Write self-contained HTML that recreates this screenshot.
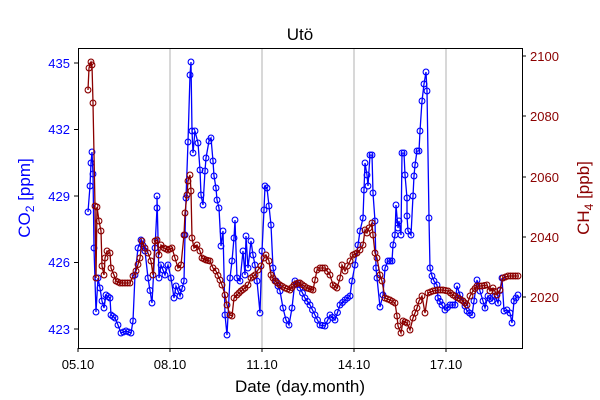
<!DOCTYPE html>
<html><head><meta charset="utf-8"><style>body{margin:0;background:#fff}svg{display:block;font-family:"Liberation Sans",sans-serif}</style></head><body>
<svg id="s" width="600" height="400" viewBox="0 0 600 400">
<rect x="78.5" y="48.5" width="444" height="300" fill="#fff"/>
<g stroke="#b0b0b0" stroke-width="1"><line x1="170" y1="48" x2="170" y2="348"/><line x1="262" y1="48" x2="262" y2="348"/><line x1="354" y1="48" x2="354" y2="348"/><line x1="446" y1="48" x2="446" y2="348"/></g>
<g id="data"></g>
<rect x="78.5" y="48.5" width="444" height="300" fill="none" stroke="#000" stroke-width="1"/>
<g stroke="#000"><line x1="78" y1="348" x2="78" y2="352"/><line x1="170" y1="348" x2="170" y2="352"/><line x1="262" y1="348" x2="262" y2="352"/><line x1="354" y1="348" x2="354" y2="352"/><line x1="446" y1="348" x2="446" y2="352"/>
<line x1="74" y1="63" x2="78" y2="63"/><line x1="74" y1="129.5" x2="78" y2="129.5"/><line x1="74" y1="196" x2="78" y2="196"/><line x1="74" y1="262.5" x2="78" y2="262.5"/><line x1="74" y1="329" x2="78" y2="329"/>
<line x1="522" y1="56" x2="526" y2="56"/><line x1="522" y1="116" x2="526" y2="116"/><line x1="522" y1="177" x2="526" y2="177"/><line x1="522" y1="237" x2="526" y2="237"/><line x1="522" y1="297" x2="526" y2="297"/></g>
<g font-size="13" text-anchor="middle"><text x="78" y="369">05.10</text><text x="170" y="369">08.10</text><text x="262" y="369">11.10</text><text x="354" y="369">14.10</text><text x="446" y="369">17.10</text></g>
<g font-size="13" text-anchor="end" fill="#0000ff"><text x="70" y="68">435</text><text x="70" y="134">432</text><text x="70" y="201">429</text><text x="70" y="267">426</text><text x="70" y="334">423</text></g>
<g font-size="13" fill="#8b0000"><text x="530" y="61">2100</text><text x="530" y="121">2080</text><text x="530" y="182">2060</text><text x="530" y="242">2040</text><text x="530" y="302">2020</text></g>
<text x="300" y="40" font-size="17" text-anchor="middle">Utö</text>
<text x="300" y="392" font-size="17" text-anchor="middle">Date (day.month)</text>
<text transform="translate(30,198) rotate(-90)" font-size="17" text-anchor="middle" fill="#0000ff">CO<tspan font-size="12" dy="4">2</tspan><tspan dy="-4"> [ppm]</tspan></text>
<text transform="translate(589,198) rotate(-90)" font-size="17" text-anchor="middle" fill="#8b0000">CH<tspan font-size="12" dy="4">4</tspan><tspan dy="-4"> [ppb]</tspan></text>
</svg>
<script>
var B=[88,212,90,186,91,163,92,152,93,174,94,248,96,312,98,278,100,288,102,301,104,308,106,295,110,298,111,315,115,318,118,325,121,333,126,331,131,333,133,321,135,275,138,248,141,240,145,251,148,278,152,303,155,248,157,208,157,196,159,278,161,265,165,275,168,265,171,278,174,298,176,286,180,296,184,281,185,235,186,198,188,142,190,75,191,62,192,131,193,153,195,131,198,143,200,170,201,195,203,205,205,171,206,158,209,141,211,138,213,161,214,176,216,188,217,200,219,208,221,246,223,231,225,315,227,335,230,278,232,261,234,238,235,220,237,278,240,281,243,251,245,275,246,236,248,268,251,241,253,255,255,265,257,281,260,313,262,251,264,210,265,186,267,188,269,206,271,225,273,268,276,281,280,291,283,308,286,320,289,325,292,308,295,281,300,288,305,298,310,305,315,315,320,325,325,326,330,315,335,320,340,305,345,300,350,296,352,281,355,265,358,245,360,231,363,218,364,190,365,163,367,175,368,186,370,155,372,155,373,193,375,221,376,268,377,278,380,307,383,295,385,268,388,261,392,261,393,245,395,235,396,205,398,228,399,221,401,235,402,153,404,153,405,175,407,198,407,216,408,231,411,235,413,196,414,176,415,165,417,151,419,151,420,131,422,101,424,84,426,72,427,91,429,218,430,268,432,276,434,281,437,285,438,298,442,305,445,310,450,305,455,305,457,286,460,295,463,301,467,311,472,315,474,301,477,280,480,291,483,301,485,308,488,296,492,301,495,296,498,303,502,278,504,311,507,310,510,313,512,323,514,301,516,298,518,295];
var R=[88,90,89,68,91,62,92,65,93,103,95,206,96,278,97,207,99,221,101,231,102,266,104,275,105,258,107,251,110,253,111,268,114,275,116,281,120,283,125,283,130,283,133,276,136,271,140,258,142,241,145,248,148,253,151,261,153,275,155,241,157,240,159,255,161,245,164,248,168,250,172,248,175,258,178,268,181,265,184,235,185,213,187,195,188,181,190,175,191,191,192,238,194,248,197,245,200,251,202,258,206,260,210,261,213,268,216,271,220,280,222,285,225,295,227,305,230,315,232,316,234,298,237,295,241,291,245,288,248,285,251,278,255,275,258,270,261,266,264,258,266,255,269,261,271,275,275,281,280,285,285,288,290,290,294,285,298,283,300,283,307,288,313,290,317,270,320,268,325,268,330,275,333,285,337,288,340,278,342,265,345,271,350,261,353,255,357,253,360,250,363,245,365,230,367,233,369,228,372,223,373,235,375,253,377,258,380,275,382,281,385,298,390,300,395,303,397,316,398,326,401,333,403,321,407,323,410,330,413,318,417,308,419,301,422,296,425,313,428,293,433,291,438,290,443,290,448,291,453,295,458,298,463,301,467,305,470,296,473,291,477,286,482,286,487,285,490,291,493,288,497,295,500,290,503,278,508,276,513,276,518,276];
function draw(a,c){var g=document.getElementById('data'),ns='http://www.w3.org/2000/svg',p=[];for(var i=0;i<a.length;i+=2)p.push(a[i]+','+a[i+1]);
var l=document.createElementNS(ns,'polyline');l.setAttribute('points',p.join(' '));l.setAttribute('fill','none');l.setAttribute('stroke',c);l.setAttribute('stroke-width','1.3');g.appendChild(l);
for(var i=0;i<a.length;i+=2){var pts=[[a[i],a[i+1]]];if(i+2<a.length){var dx=a[i+2]-a[i];var n=Math.max(0,Math.floor(dx/1.8)-1);for(var k=1;k<=n;k++){var t=k/(n+1);pts.push([a[i]+dx*t,a[i+1]+(a[i+3]-a[i+1])*t]);}}
pts.forEach(function(q){var ci=document.createElementNS(ns,'circle');ci.setAttribute('cx',q[0]);ci.setAttribute('cy',q[1]);ci.setAttribute('r','2.9');ci.setAttribute('fill','none');ci.setAttribute('stroke',c);ci.setAttribute('stroke-width','1.1');g.appendChild(ci);});}}
draw(B,'#0000ff');draw(R,'#8b0000');
</script>
</body></html>
